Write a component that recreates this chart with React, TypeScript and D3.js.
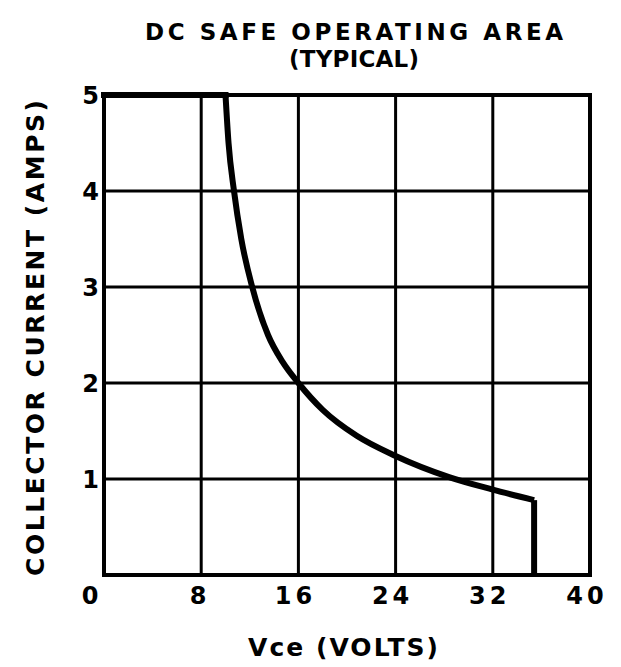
import React from "react";
import * as d3 from "d3";

// Vce (volts) / collector current (amps)
const plateauV = [0, 10];
const plateauI = [5, 5];
const curveV = [10, 10.25, 10.7, 11.3, 12.2, 13.5, 14.7, 16, 18, 20.8, 24, 28.4, 32, 35.4];
const curveI = [5, 4.5, 4, 3.5, 3, 2.5, 2.22, 2, 1.72, 1.45, 1.24, 1.02, 0.89, 0.78];
const dropV = [35.4, 35.4];
const dropI = [0.78, 0];

const xTicks = [0, 8, 16, 24, 32, 40];
const yTicks = [1, 2, 3, 4, 5];
const xTickLabels = ["0", "8", "16", "24", "32", "40"];

const WIDTH = 621;
const HEIGHT = 667;
const FONT = "'DejaVu Sans', 'Liberation Sans', Arial, sans-serif";

export default function App() {
    const margin = { top: 95, right: 31, bottom: 92, left: 104 };

    const x = d3.scaleLinear([0, 40], [margin.left, WIDTH - margin.right]);
    const y = d3.scaleLinear([0, 5], [HEIGHT - margin.bottom, margin.top]);

    const straight = d3.line<[number, number]>()
        .x((d) => x(d[0]))
        .y((d) => y(d[1]));

    const smooth = d3.line<[number, number]>()
        .x((d) => x(d[0]))
        .y((d) => y(d[1]))
        .curve(d3.curveMonotoneX);

    const zip = (a: number[], b: number[]) => a.map((v, i) => [v, b[i]] as [number, number]);

    const plotW = x(40) - x(0);
    const plotH = y(0) - y(5);

    return <svg width={WIDTH} height={HEIGHT} style={{ position: "absolute", left: 0, top: 0 }}>
        <rect width={WIDTH} height={HEIGHT} fill="white" />

        {/* title */}
        <g fontFamily={FONT} fontWeight="bold" fill="black" fontSize={23} textAnchor="middle">
            <text x={354} y={40} textLength={418} lengthAdjust="spacing">DC SAFE OPERATING AREA</text>
            <text x={354} y={67} textLength={130} lengthAdjust="spacing">(TYPICAL)</text>
        </g>

        {/* grid */}
        <g stroke="black" strokeWidth={3}>
            {xTicks.slice(1, -1).map((t) => (
                <line key={"vx" + t} x1={x(t)} x2={x(t)} y1={y(0)} y2={y(5)} />
            ))}
            {yTicks.slice(0, -1).map((t) => (
                <line key={"hy" + t} x1={x(0)} x2={x(40)} y1={y(t)} y2={y(t)} />
            ))}
        </g>
        <rect x={x(0)} y={y(5)} width={plotW} height={plotH} fill="none" stroke="black" strokeWidth={4} />

        {/* safe operating area boundary */}
        <g fill="none" stroke="black" strokeWidth={6}>
            <path d={straight(zip(plateauV, plateauI))!} strokeLinecap="square" />
            <path d={smooth(zip(curveV, curveI))!} />
            <path d={straight(zip(dropV, dropI))!} />
        </g>

        {/* tick labels */}
        <g fontFamily={FONT} fontWeight="bold" fontSize={24} fill="black">
            {yTicks.map((t) => (
                <text key={"yl" + t} x={x(0) - 5} y={y(t) + 9} textAnchor="end">{t}</text>
            ))}
            {xTicks.map((t, i) => (
                <text key={"xl" + t} x={x(t) + (i === 0 ? -14 : -3)} y={y(0) + 29}
                    textAnchor="middle" letterSpacing={xTickLabels[i].length > 1 ? 4 : 0}>
                    {xTickLabels[i]}
                </text>
            ))}
        </g>

        {/* axis titles */}
        <g fontFamily={FONT} fontWeight="bold" fill="black" fontSize={25} textAnchor="middle">
            <text transform={`translate(44, 338) rotate(-90)`} textLength={476} lengthAdjust="spacing">
                COLLECTOR CURRENT (AMPS)
            </text>
            <text x={343} y={656} textLength={190} lengthAdjust="spacing">Vce (VOLTS)</text>
        </g>
    </svg>;
}
